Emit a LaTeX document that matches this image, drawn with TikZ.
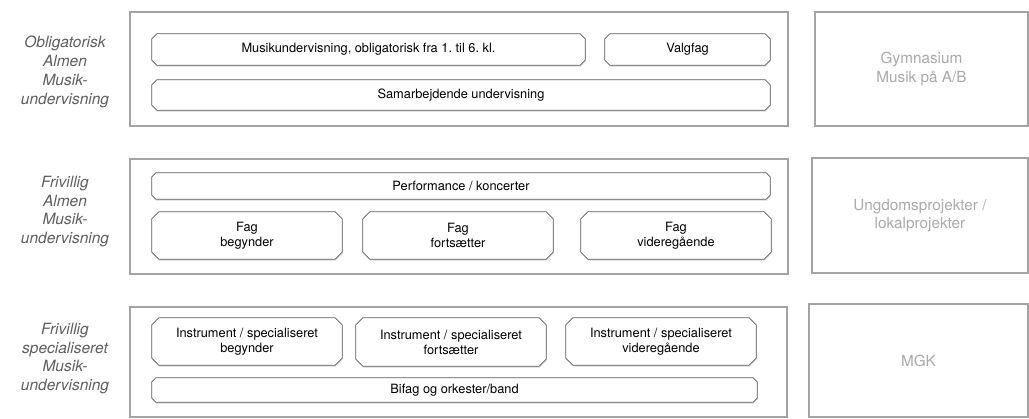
\documentclass[tikz,border=0pt]{standalone}
\usepackage{fontspec}
\setmainfont{TeX Gyre Heros}
\usetikzlibrary{shadows}
\frenchspacing
\definecolor{outergray}{HTML}{A3A3A3}
\definecolor{innergray}{HTML}{5A5A5A}
\definecolor{labelgray}{HTML}{5E5E5E}
\definecolor{lightgray2}{HTML}{AAAAAA}
\tikzset{
  outerbox/.style={draw=outergray, line width=1.8pt, rectangle, inner sep=0pt},
  sidebox/.style={draw=outergray, line width=1.8pt, rectangle, inner sep=0pt,
    text=lightgray2, align=center, font=\fontsize{15.3}{18.5}\selectfont},
  innerbox/.style={rectangle, inner sep=0pt, align=center,
    font=\fontsize{12.8}{15}\selectfont},
  chamfline/.style={draw=innergray, line width=0.8pt, fill=white,
    drop shadow={opacity=0.2, shadow xshift=0.6pt, shadow yshift=-1.6pt}},
  rowlabel/.style={text=labelgray, align=center, font=\fontsize{15.5}{18.8}\selectfont\itshape}
}
% #1 node name, #2 chamfer size
\newcommand{\chamfbox}[2]{%
  \path[chamfline]
    ([xshift=#2]#1.north west) -- ([xshift=-#2]#1.north east)
    -- ([yshift=-#2]#1.north east) -- ([yshift=#2]#1.south east)
    -- ([xshift=-#2]#1.south east) -- ([xshift=#2]#1.south west)
    -- ([yshift=#2]#1.south west) -- ([yshift=-#2]#1.north west) -- cycle;}
\begin{document}
\begin{tikzpicture}[x=1pt,y=-1pt]
\useasboundingbox (0,0) rectangle (1029,419);
% outer frames
\node[outerbox, minimum width=658pt, minimum height=114pt] (r1) at (459,69) {};
\node[outerbox, minimum width=658pt, minimum height=115pt] (r2) at (459,216.5) {};
\node[outerbox, minimum width=657pt, minimum height=110pt] (r3) at (458.5,362) {};
% side boxes
\node[sidebox, minimum width=213pt, minimum height=114pt] (gym) at (921.5,69) {Gymnasium\\Musik på A/B};
\node[sidebox, minimum width=216pt, minimum height=115pt] (ung) at (920,215.5) {Ungdomsprojekter /\\lokalprojekter};
\node[sidebox, minimum width=219pt, minimum height=113pt] (mgk) at (918.5,360.5) {MGK};
% row labels
\node[rowlabel] (l1) at (65,72) {Obligatorisk\\Almen\\Musik-\\undervisning};
\node[rowlabel] (l2) at (65,211.5) {Frivillig\\Almen\\Musik-\\undervisning};
\node[rowlabel] (l3) at (65,358.5) {Frivillig\\specialiseret\\Musik-\\undervisning};
% inner box geometry (invisible nodes, outlines drawn behind)
\begin{scope}[every node/.append style={innerbox}]
\path
  (368.5,49.5) node[minimum width=433pt, minimum height=31pt] (mus) {}
  (687.5,49.5) node[minimum width=165pt, minimum height=31pt] (valg) {}
  (461,95)     node[minimum width=618pt, minimum height=30pt] (sam) {}
  (461,186)    node[minimum width=618pt, minimum height=26pt] (perf) {}
  (247,235.5)  node[minimum width=190pt, minimum height=47pt] (fb) {}
  (458,235.5)  node[minimum width=190pt, minimum height=47pt] (ff) {}
  (676,235.5)  node[minimum width=190pt, minimum height=47pt] (fv) {}
  (247,341.5)  node[minimum width=190pt, minimum height=47pt] (ib) {}
  (451,342)    node[minimum width=190pt, minimum height=48pt] (if) {}
  (661,341.5)  node[minimum width=190pt, minimum height=47pt] (iv) {}
  (454.5,390)  node[minimum width=605pt, minimum height=24pt] (bif) {};
\end{scope}
\chamfbox{mus}{5pt}
\chamfbox{valg}{5pt}
\chamfbox{sam}{5pt}
\chamfbox{perf}{4pt}
\chamfbox{fb}{7pt}
\chamfbox{ff}{7pt}
\chamfbox{fv}{7pt}
\chamfbox{ib}{7pt}
\chamfbox{if}{7pt}
\chamfbox{iv}{7pt}
\chamfbox{bif}{4pt}
% texts
\begin{scope}[every node/.append style={innerbox}]
\node at (mus.center) {Musikundervisning, obligatorisk fra 1. til 6. kl.};
\node at (valg.center) {Valgfag};
\node at (sam.center) {Samarbejdende undervisning};
\node at (perf.center) {Performance / koncerter};
\node at (fb.center) {Fag\\begynder};
\node at (ff.center) {Fag\\fortsætter};
\node at (fv.center) {Fag\\videregående};
\node at (ib.center) {Instrument / specialiseret\\begynder};
\node at (if.center) {Instrument / specialiseret\\fortsætter};
\node at (iv.center) {Instrument / specialiseret\\videregående};
\node at (bif.center) {Bifag og orkester/band};
\end{scope}
\end{tikzpicture}
\end{document}
